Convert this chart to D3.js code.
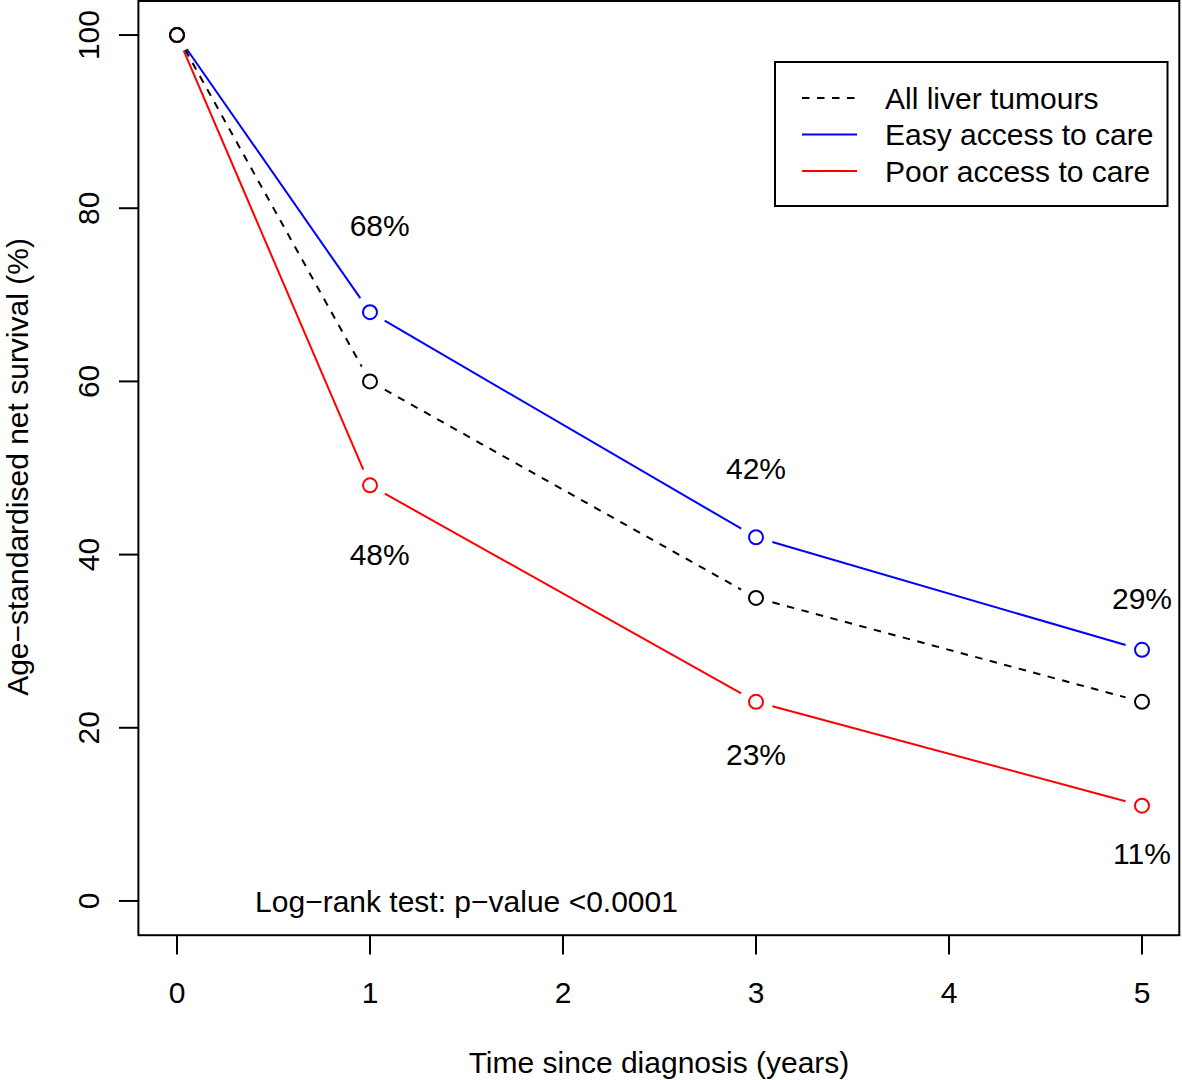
<!DOCTYPE html>
<html><head><meta charset="utf-8">
<script src="https://cdn.jsdelivr.net/npm/d3@7"></script>
<style>body{margin:0;background:#fff;} text{font-family:"Liberation Sans",Arial,Helvetica,sans-serif;fill:#000;}</style>
</head><body>
<svg id="c" width="1182" height="1080"></svg>
<script>
const years = [0, 1, 3, 5];
const allTumours = [100, 60, 35, 23];
const easyAccess = [100, 68, 42, 29];
const poorAccess = [100, 48, 23, 11];
const seriesNames = ["All liver tumours", "Easy access to care", "Poor access to care"];
const xTicks = [0, 1, 2, 3, 4, 5];
const yTicks = [0, 20, 40, 60, 80, 100];
const pValueText = "Log\u2212rank test: p\u2212value <0.0001";

const svg = d3.select("#c");
const x = d3.scaleLinear().domain([-0.2, 5.2]).range([138.4, 1180.6]);
const y = d3.scaleLinear().domain([-4, 104]).range([935.6, 0.4]);
const FS = 30;

const series = [
  {name: seriesNames[1], vals: easyAccess, color: "#0000ff", dash: null, labelIdx: [1,2,3], labelOff: [10, 8, 6], labelDx: [0.05, 0, 0]},
  {name: seriesNames[2], vals: poorAccess, color: "#ff0000", dash: null, labelIdx: [1,2,3], labelOff: [-8, -6, -5.5], labelDx: [0.05, 0, 0]},
  {name: seriesNames[0], vals: allTumours, color: "#000000", dash: "7.5,7.5", labelIdx: [], labelOff: [], labelDx: []}
];
const gap = 17;
series.forEach(s => {
  const pts = years.map((t, i) => [x(t), y(s.vals[i])]);
  const g = svg.append("g");
  for (let i = 0; i < pts.length - 1; i++) {
    const [x1, y1] = pts[i], [x2, y2] = pts[i + 1];
    const d = Math.hypot(x2 - x1, y2 - y1);
    const ux = (x2 - x1) / d, uy = (y2 - y1) / d;
    g.append("line")
      .attr("x1", x1 + ux * gap).attr("y1", y1 + uy * gap)
      .attr("x2", x2 - ux * gap).attr("y2", y2 - uy * gap)
      .attr("stroke", s.color).attr("stroke-width", 2)
      .attr("stroke-dasharray", s.dash);
  }
  g.selectAll("circle").data(pts).join("circle")
    .attr("cx", d => d[0]).attr("cy", d => d[1]).attr("r", 7)
    .attr("fill", "none").attr("stroke", s.color).attr("stroke-width", 2);
  s.labelIdx.forEach((i, k) => {
    svg.append("text")
      .attr("x", x(years[i] + s.labelDx[k]))
      .attr("y", y(s.vals[i] + s.labelOff[k]))
      .attr("dy", "0.36em").attr("text-anchor", "middle")
      .style("font-size", FS + "px")
      .text(s.vals[i] + "%");
  });
});

svg.append("rect").attr("x", 138.4).attr("y", 1).attr("width", 1179.3 - 138.4).attr("height", 935.2 - 1)
  .attr("fill", "none").attr("stroke", "#000").attr("stroke-width", 2);

const xa = svg.append("g");
xTicks.forEach(t => {
  xa.append("line").attr("x1", x(t)).attr("x2", x(t)).attr("y1", 935.6).attr("y2", 954.5)
    .attr("stroke", "#000").attr("stroke-width", 2);
  xa.append("text").attr("x", x(t)).attr("y", 992).attr("dy", "0.36em")
    .attr("text-anchor", "middle").style("font-size", FS + "px").text(t);
});
const ya = svg.append("g");
yTicks.forEach(t => {
  ya.append("line").attr("x1", 119).attr("x2", 138.4).attr("y1", y(t)).attr("y2", y(t))
    .attr("stroke", "#000").attr("stroke-width", 2);
  ya.append("text").attr("transform", `translate(88,${y(t)}) rotate(-90)`).attr("dy", "0.36em")
    .attr("text-anchor", "middle").style("font-size", FS + "px").text(t);
});

svg.append("text").attr("x", 659).attr("y", 1062).attr("dy", "0.36em").attr("text-anchor", "middle")
  .style("font-size", FS + "px").text("Time since diagnosis (years)");
svg.append("text").attr("transform", "translate(28,467) rotate(-90)").attr("text-anchor", "middle")
  .style("font-size", FS + "px").text("Age\u2212standardised net survival (%)");

svg.append("text").attr("x", x(1.5)).attr("y", y(0)).attr("dy", "0.36em").attr("text-anchor", "middle")
  .style("font-size", FS + "px").text(pValueText);

const lg = svg.append("g");
lg.append("rect").attr("x", 775).attr("y", 62).attr("width", 392.5).attr("height", 144)
  .attr("fill", "#fff").attr("stroke", "#000").attr("stroke-width", 2);
const legendItems = [
  {name: seriesNames[0], color: "#000", dash: "7.5,7.5"},
  {name: seriesNames[1], color: "#0000ff", dash: null},
  {name: seriesNames[2], color: "#ff0000", dash: null}
];
legendItems.forEach((d, i) => {
  const yy = 98 + i * 36.5;
  lg.append("line").attr("x1", 802).attr("x2", 857).attr("y1", yy).attr("y2", yy)
    .attr("stroke", d.color).attr("stroke-width", 2).attr("stroke-dasharray", d.dash);
  lg.append("text").attr("x", 885).attr("y", yy).attr("dy", "0.36em")
    .style("font-size", FS + "px").text(d.name);
});
</script>
</body></html>
